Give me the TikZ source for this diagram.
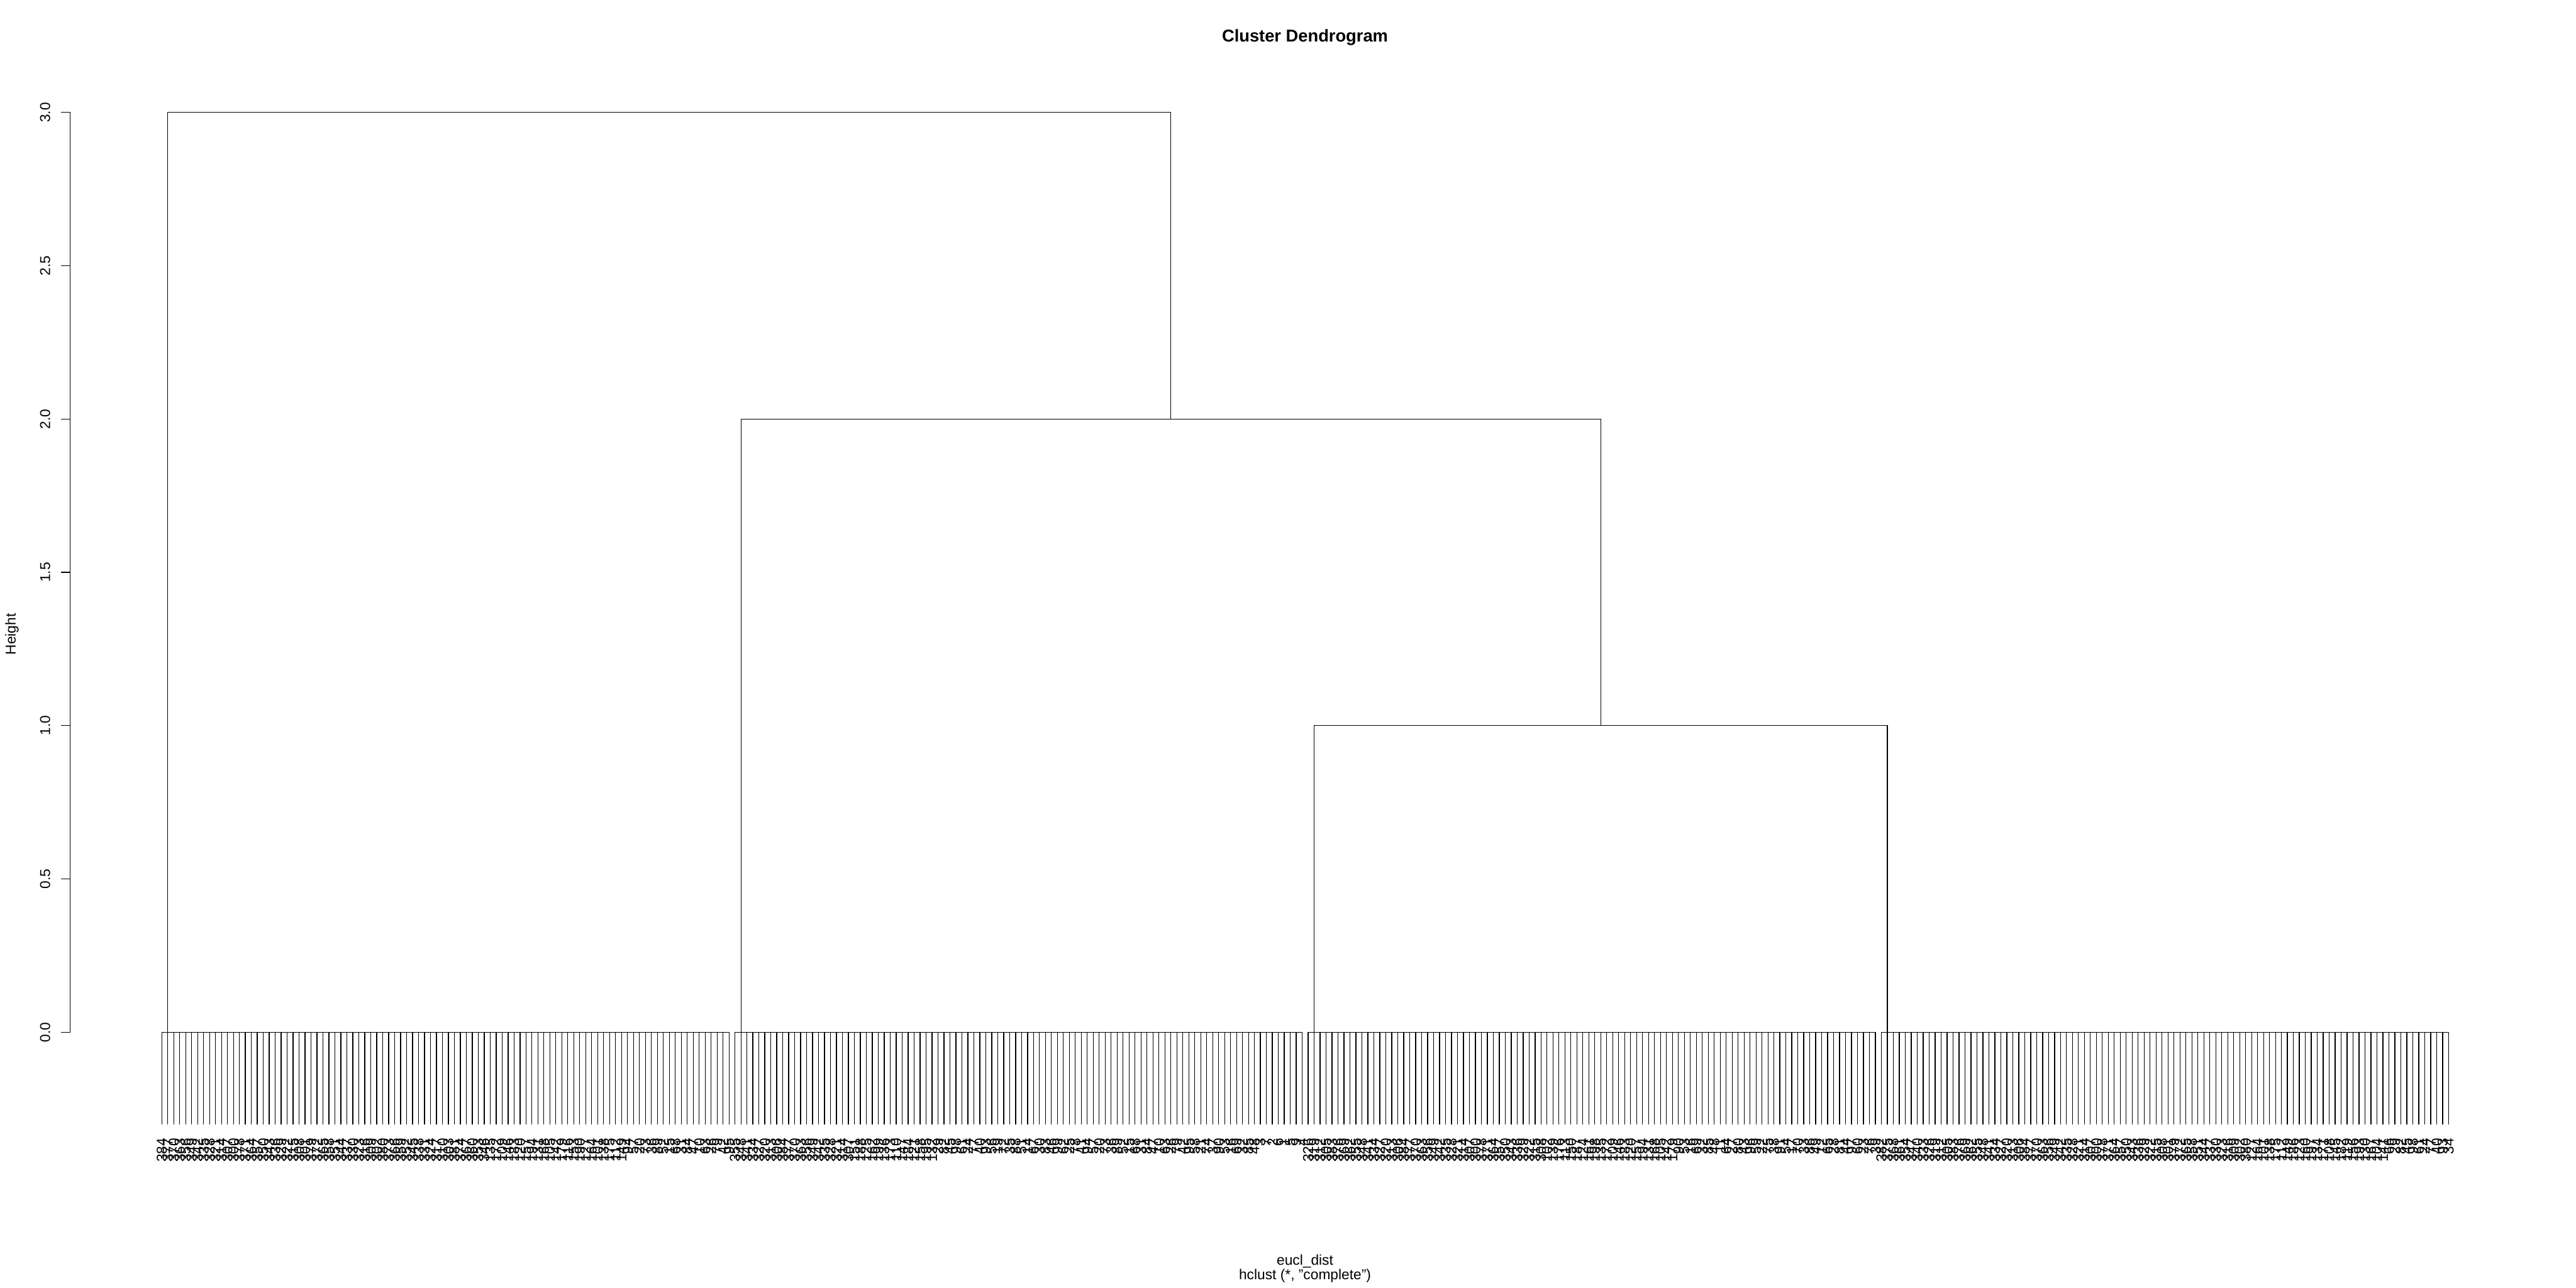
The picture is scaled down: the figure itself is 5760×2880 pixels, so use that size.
\documentclass[tikz,border=0pt]{standalone}
\usepackage{fontspec}
\setmainfont{Liberation Sans}
\usetikzlibrary{calc}
\begin{document}
\begin{tikzpicture}[x=0.25pt,y=-0.25pt,
  dline/.style={line width=0.45pt,black},
  leaflab/.style={rotate=90,anchor=east,inner sep=0pt,font=\fontsize{8}{9.6}\selectfont},
  ticklab/.style={rotate=90,anchor=base,inner sep=0pt,font=\fontsize{8}{9.6}\selectfont},
  axlab/.style={anchor=base,inner sep=0pt,font=\fontsize{8}{9.6}\selectfont},
  titlelab/.style={anchor=base,inner sep=0pt,font=\fontsize{9.6}{11.5}\selectfont\bfseries}]
\useasboundingbox (0,0) rectangle (5760,2880);
% levels
\coordinate (y0) at (0,2308);
\coordinate (y1) at (0,1622.5);
\coordinate (y2) at (0,937);
\coordinate (y3) at (0,251.5);
% leaves
\foreach \i in {1,...,384}{
  \pgfmathsetmacro\xx{361.7+(\i-1)*13.351}
  \coordinate (T\i) at (\xx,2308);
  \coordinate (B\i) at (\xx,2513.7);
  \draw[dline] (T\i) -- (B\i);
  \pgfmathtruncatemacro\c{int((\i-1)/96)}
  \pgfmathtruncatemacro\j{mod(\i-1,96)}
  \pgfmathtruncatemacro\A{{55,20,40,62}[\c]}
  \pgfmathtruncatemacro\Bb{{78,34,62,85}[\c]}
  \pgfmathtruncatemacro\C{{96,88,96,96}[\c]}
  \ifnum\j<\A
    \pgfmathtruncatemacro\lab{384-mod(\j*7+\c*29,85)}
  \else\ifnum\j<\Bb
    \pgfmathtruncatemacro\lab{100+mod(\j*37+\c*11,100)}
  \else\ifnum\j<\C
    \pgfmathtruncatemacro\lab{10+mod(\j*53+\c*17,90)}
  \else
    \pgfmathtruncatemacro\lab{1+mod(\j*4+\c,9)}
  \fi\fi\fi
  \ifnum\i=384 \def\lab{34}\fi
  \node[leaflab] (lab\i) at ($(B\i)+(0,30.5)$) {\lab};
}
% height-0 combs
\draw[dline] (T1) -- (T96);
\draw[dline] (T97) -- (T192);
\draw[dline] (T193) -- (T288);
\draw[dline] (T289) -- (T384);
% merge at height 1
\draw[dline] (T194) -- (T194 |- y1) -- (T290 |- y1) -- (T290);
\coordinate (m34) at ($(T194 |- y1)!0.5!(T290 |- y1)$);
% merge at height 2
\draw[dline] (T98) -- (T98 |- y2) -- (m34 |- y2) -- (m34);
\coordinate (m234) at ($(T98 |- y2)!0.5!(m34 |- y2)$);
% merge at height 3
\draw[dline] (T2) -- (T2 |- y3) -- (m234 |- y3) -- (m234);
% axis
\coordinate (ax0) at (157,2308);
\coordinate (ax3) at (157,251.5);
\draw[dline] (ax0) -- (ax3);
\foreach \v/\t in {0/0.0,1/0.5,2/1.0,3/1.5,4/2.0,5/2.5,6/3.0}{
  \coordinate (tk\v) at (157,2308-\v*342.75);
  \draw[dline] (tk\v) -- ++(-20,0);
  \node[ticklab] (tl\v) at ($(tk\v)+(-45,0)$) {\t};
}
\node[ticklab] (ylab) at (35,1418) {Height};
% titles
\node[titlelab] (title) at (2918,93) {Cluster Dendrogram};
\node[axlab] (xlab) at (2918,2829) {eucl\_dist};
\node[axlab] (sub) at (2918,2861) {hclust (*, "complete")};
\end{tikzpicture}
\end{document}
